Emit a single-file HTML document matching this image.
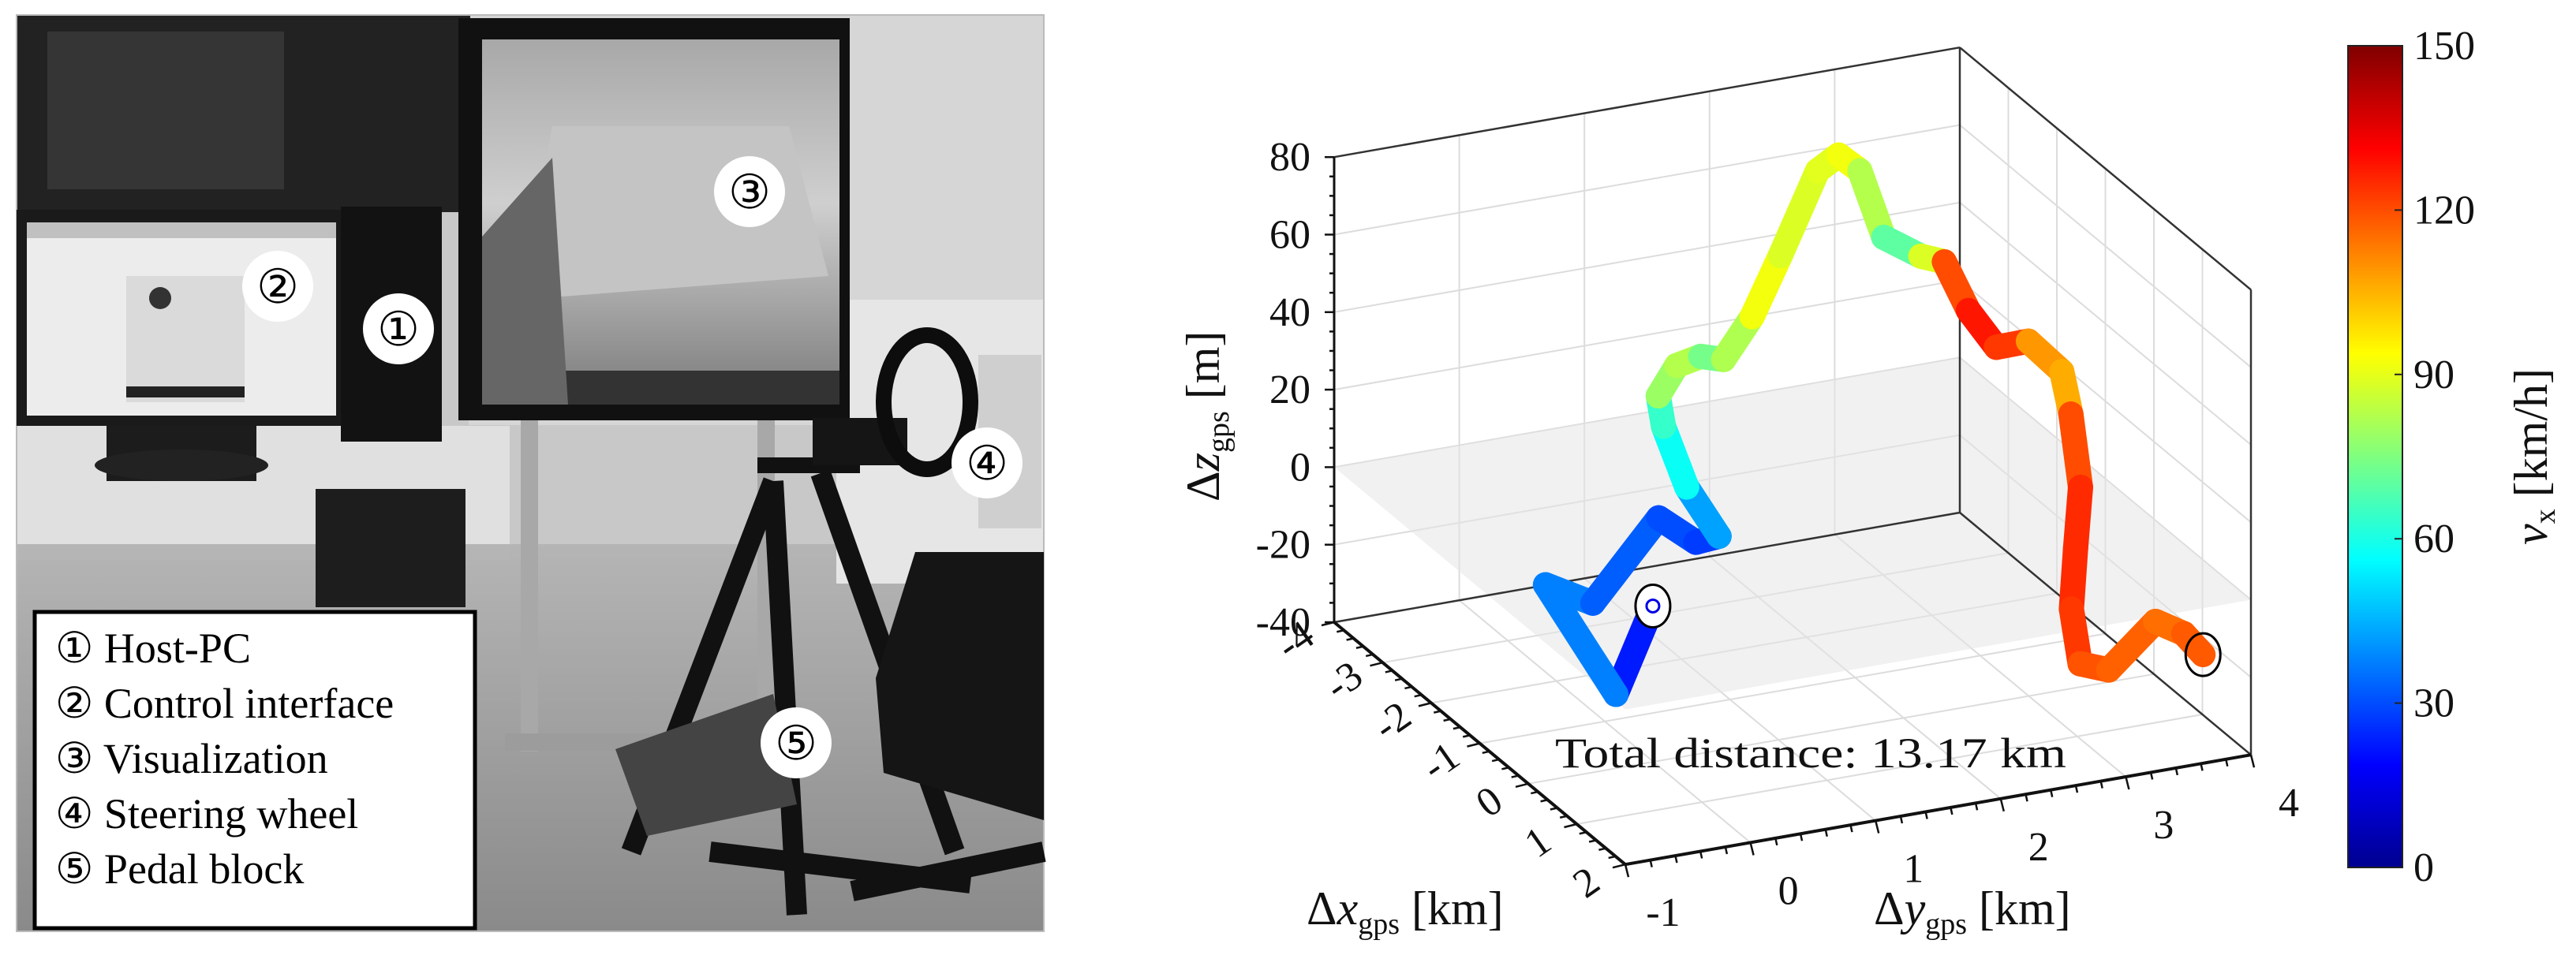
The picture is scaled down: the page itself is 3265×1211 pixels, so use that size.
<!DOCTYPE html>
<html><head><meta charset="utf-8">
<style>
html,body{margin:0;padding:0;background:#fff;}
svg{display:block;}
text{font-family:"Liberation Serif","DejaVu Serif",serif;}
</style></head>
<body>
<svg id="fig" width="3265" height="1211" viewBox="0 0 3265 1211" xmlns="http://www.w3.org/2000/svg">
<defs>
<linearGradient id="jet" x1="0" y1="1" x2="0" y2="0">
<stop offset="0" stop-color="#00008f"/><stop offset="0.125" stop-color="#0000ff"/>
<stop offset="0.375" stop-color="#00ffff"/><stop offset="0.625" stop-color="#ffff00"/>
<stop offset="0.875" stop-color="#ff0000"/><stop offset="1" stop-color="#800000"/>
</linearGradient>
<linearGradient id="scr" x1="0" y1="0" x2="0" y2="1">
<stop offset="0" stop-color="#a8a8a8"/><stop offset="0.45" stop-color="#cfcfcf"/><stop offset="1" stop-color="#7a7a7a"/>
</linearGradient>
<linearGradient id="floor" x1="0" y1="0" x2="0" y2="1">
<stop offset="0" stop-color="#b5b5b5"/><stop offset="1" stop-color="#8a8a8a"/>
</linearGradient>
</defs>

<!-- ================= PHOTO (approximation) ================= -->
<g>
<rect x="21" y="19" width="1302" height="1162" fill="#c8c8c8"/>
<rect x="594" y="19" width="729" height="520" fill="#d6d6d6"/>
<rect x="21" y="19" width="575" height="250" fill="#222"/>
<rect x="60" y="40" width="300" height="200" fill="#353535"/>
<rect x="21" y="690" width="1302" height="491" fill="url(#floor)"/>
<rect x="21" y="540" width="625" height="160" fill="#e0e0e0"/>
<rect x="21" y="690" width="625" height="20" fill="#b5b5b5"/>
<rect x="400" y="620" width="190" height="150" fill="#1d1d1d"/>
<rect x="1060" y="380" width="263" height="360" fill="#e6e6e6"/>
<rect x="1240" y="450" width="80" height="220" fill="#cfcfcf"/>
<rect x="21" y="19" width="1302" height="1162" fill="none" stroke="#bbb" stroke-width="2"/>
<!-- left monitor -->
<rect x="21" y="266" width="416" height="274" fill="#1a1a1a"/>
<rect x="34" y="282" width="392" height="245" fill="#ececec"/>
<rect x="34" y="282" width="392" height="20" fill="#c0c0c0"/>
<rect x="160" y="350" width="150" height="160" fill="#dadada"/>
<circle cx="203" cy="378" r="14" fill="#333"/>
<rect x="160" y="490" width="150" height="14" fill="#222"/>
<rect x="135" y="540" width="190" height="70" fill="#1c1c1c"/>
<ellipse cx="230" cy="590" rx="110" ry="20" fill="#222"/>
<!-- PC tower -->
<rect x="432" y="262" width="128" height="298" fill="#121212"/>
<!-- big monitor -->
<rect x="581" y="23" width="496" height="510" fill="#111"/>
<rect x="611" y="50" width="453" height="463" fill="url(#scr)"/>
<polygon points="700,160 1000,160 1050,350 660,380" fill="#c4c4c4"/>
<rect x="611" y="470" width="453" height="43" fill="#333"/>
<polygon points="611,300 700,200 720,513 611,513" fill="#666"/>
<rect x="660" y="533" width="22" height="420" fill="#a8a8a8"/>
<rect x="960" y="533" width="22" height="420" fill="#a8a8a8"/>
<rect x="640" y="930" width="360" height="22" fill="#9c9c9c"/>
<!-- wheel stand -->
<g stroke="#111" stroke-width="26" fill="none">
<line x1="800" y1="1080" x2="980" y2="610"/>
<line x1="1010" y1="1160" x2="980" y2="610"/>
<line x1="900" y1="1080" x2="1230" y2="1120"/>
<line x1="1040" y1="600" x2="1210" y2="1080"/>
</g>
<rect x="960" y="580" width="130" height="20" fill="#111"/>
<rect x="1030" y="530" width="120" height="60" fill="#151515"/>
<ellipse cx="1175" cy="510" rx="55" ry="85" fill="none" stroke="#0d0d0d" stroke-width="20"/>
<polygon points="780,950 980,880 1010,1020 820,1060" fill="#444"/>
<!-- chair -->
<polygon points="1160,700 1323,700 1323,1040 1120,980 1110,860" fill="#151515"/>
<line x1="1080" y1="1130" x2="1323" y2="1080" stroke="#111" stroke-width="26"/>
<!-- circled labels -->
<g font-size="60" text-anchor="middle">
<circle cx="950" cy="243" r="45" fill="#fff"/><text x="950" y="264" fill="#000">③</text>
<circle cx="352" cy="363" r="45" fill="#fff"/><text x="352" y="384" fill="#000">②</text>
<circle cx="505" cy="417" r="45" fill="#fff"/><text x="505" y="438" fill="#000">①</text>
<circle cx="1251" cy="587" r="45" fill="#fff"/><text x="1251" y="608" fill="#000">④</text>
<circle cx="1009" cy="942" r="45" fill="#fff"/><text x="1009" y="963" fill="#000">⑤</text>
</g>
<!-- legend box -->
<g>
<rect x="44" y="776" width="558" height="401" fill="#fff" stroke="#000" stroke-width="5"/>
<g font-size="54" fill="#000">
<text x="70" y="840">① Host-PC</text>
<text x="70" y="910">② Control interface</text>
<text x="70" y="980">③ Visualization</text>
<text x="70" y="1050">④ Steering wheel</text>
<text x="70" y="1120">⑤ Pedal block</text>
</g>
</g>
</g>

<!-- ================= 3D CHART ================= -->
<g id="chart"></g>
</svg>

<script>
// ---- data ----
const xKm = [-0.81,-0.72,-1.63,-1.48,-1.80,-1.96,-2.00,-2.33,-2.86,-2.71,-2.87,-2.97,-3.22,-3.20,-3.16,-2.78,-2.63,-2.63,-2.37,-2.25,-2.05,-1.76,-1.70,-1.71,-0.97,-0.86,-0.12,0.32,0.75,1.11,1.34,0.91,1.26,1.76];
const yKm = [0.31,-0.02,-0.23,0.09,0.74,1.10,1.30,1.17,1.19,1.09,1.30,1.53,1.81,2.03,2.24,2.39,2.50,2.67,2.76,3.01,3.12,3.20,3.40,3.66,3.64,3.67,3.46,3.25,3.05,2.98,3.12,3.66,3.75,3.71];
const zM  = [-10,-30,-10,-15,0,-10,-10,0,10,20,25,25,20,30,45,70,75,70,55,50,50,40,30,30,30,20,10,0,-10,-20,-20,-15,-15,-15];
const speed = [15,30,45,30,35,25,30,55,60,68,90,75,72,92,92,85,94,90,75,65,112,128,128,118,100,112,128,122,128,118,120,114,116,120];
const xTicks = [-4,-3,-2,-1,0,1,2];
const yTicks = [-1,0,1,2,3,4];
const zTicks = [-40,-20,0,20,40,60,80];
const cTicks = [0,30,60,90,120,150];
const totalText = "Total distance: 13.17 km";

// ---- axis functions ----
const X0=-4, Y0=-1, Z0=-40, Z1=80, X1=2, Y1=4;
function P(x,y,z){
  const a=x-X0,b=y-Y0,c=z-Z0;
  return [1691+61.5*a+158.6*b, 789+51.2*a-27.8*b-4.915*c];
}
const cbTop=58, cbBot=1100, cbX=2976, cbW=69;
function cY(v){return cbBot-(v-0)/(150-0)*(cbBot-cbTop);}
function jet(v){
  const t=Math.max(0,Math.min(1,v/150));
  const f=(s)=>Math.max(0,Math.min(1,s));
  const r=f(1.5-Math.abs(4*t-3)), g=f(1.5-Math.abs(4*t-2)), b=f(1.5-Math.abs(4*t-1));
  return `rgb(${Math.round(r*255)},${Math.round(g*255)},${Math.round(b*255)})`;
}
const NS="http://www.w3.org/2000/svg";
const chart=document.getElementById('chart');
function mk(tag,attrs,parent){const e=document.createElementNS(NS,tag);for(const k in attrs)e.setAttribute(k,attrs[k]);(parent||chart).appendChild(e);return e;}
function line(p,q,stroke,w,parent){return mk('line',{x1:p[0],y1:p[1],x2:q[0],y2:q[1],stroke:stroke,'stroke-width':w},parent);}

// grid
const grid=mk('g',{});


zTicks.forEach(z=>{line(P(X0,Y0,z),P(X0,Y1,z),'#dcdcdc',2,grid);line(P(X0,Y1,z),P(X1,Y1,z),'#dcdcdc',2,grid);});
yTicks.forEach(y=>{line(P(X0,y,Z0),P(X0,y,Z1),'#dcdcdc',2,grid);line(P(X0,y,Z0),P(X1,y,Z0),'#dcdcdc',2,grid);});
xTicks.forEach(x=>{line(P(x,Y1,Z0),P(x,Y1,Z1),'#dcdcdc',2,grid);line(P(x,Y0,Z0),P(x,Y1,Z0),'#dcdcdc',2,grid);});

// z=0 plane
const pl=[P(X0,Y0,0),P(X0,Y1,0),P(X1,Y1,0),P(X1,Y0,0)];
const plane=mk('polygon',{points:pl.map(p=>p.join(',')).join(' '),fill:'#e6e6e6','fill-opacity':0.55});



// box edges
const box=mk('g',{});


[[P(X0,Y0,Z0),P(X0,Y0,Z1)],[P(X0,Y1,Z0),P(X0,Y1,Z1)],[P(X1,Y1,Z0),P(X1,Y1,Z1)],
 [P(X0,Y0,Z1),P(X0,Y1,Z1)],[P(X0,Y1,Z1),P(X1,Y1,Z1)],
 [P(X0,Y0,Z0),P(X0,Y1,Z0)],[P(X0,Y1,Z0),P(X1,Y1,Z0)]].forEach(s=>line(s[0],s[1],'#333',2.5,box));
[[P(X0,Y0,Z0),P(X1,Y0,Z0)],[P(X1,Y0,Z0),P(X1,Y1,Z0)]].forEach(s=>line(s[0],s[1],'#111',4,box));
line(P(X0,Y0,Z0),P(X0,Y0,Z1),'#111',3,box);

// ticks
const tk=mk('g',{});


for(let z=Z0;z<=Z1;z+=5){const p=P(X0,Y0,z);line([p[0]-(z%20===0?12:6),p[1]],p,'#111',2.5,tk);}
for(let x=X0;x<=X1+1e-9;x+=0.2){const p=P(x,Y0,Z0);const m=Math.abs(x-Math.round(x))<1e-6;line(p,[p[0]-(m?16:9),p[1]+(m?4:2)],'#111',2.5,tk);}
for(let y=Y0;y<=Y1+1e-9;y+=0.2){const p=P(X1,y,Z0);const m=Math.abs(y-Math.round(y))<1e-6;line(p,[p[0]+(m?4:2),p[1]+(m?16:9)],'#111',2.5,tk);}

// tick labels
const tl=mk('g',{'font-size':52,fill:'#111'});


zTicks.forEach(z=>{const p=P(X0,Y0,z);const t=mk('text',{x:p[0]-30,y:p[1]+17,'text-anchor':'end'},tl);t.textContent=z;});
xTicks.forEach(x=>{const p=P(x,Y0,Z0);const t=mk('text',{x:p[0]-50,y:p[1]+40,'text-anchor':'middle',transform:`rotate(-35 ${p[0]-50} ${p[1]+22})`},tl);t.textContent=x;});
yTicks.forEach(y=>{const p=P(X1,y,Z0);const t=mk('text',{x:p[0]+48,y:p[1]+78,'text-anchor':'middle'},tl);t.textContent=y;});

// axis titles
const at=mk('g',{'font-size':60,fill:'#111'});


let t=mk('text',{x:1656,y:1172},at);
t.innerHTML='Δ<tspan font-style="italic">x</tspan><tspan font-size="38" dy="12">gps</tspan><tspan dy="-12"> [km]</tspan>';
t=mk('text',{x:2375,y:1172},at);
t.innerHTML='Δ<tspan font-style="italic">y</tspan><tspan font-size="38" dy="12">gps</tspan><tspan dy="-12"> [km]</tspan>';
t=mk('text',{x:0,y:0,transform:'translate(1545,636) rotate(-90)'},at);
t.innerHTML='Δ<tspan font-style="italic">z</tspan><tspan font-size="38" dy="12">gps</tspan><tspan dy="-12"> [m]</tspan>';

// trajectory
const tr=mk('g',{'stroke-linecap':'round','stroke-linejoin':'round',fill:'none'});


for(let i=0;i<xKm.length-1;i++){
  const p=P(xKm[i],yKm[i],zM[i]),q=P(xKm[i+1],yKm[i+1],zM[i+1]);
  const s=line(p,q,jet((speed[i]+speed[i+1])/2),32,tr);
  
  
}
const ps=P(xKm[0],yKm[0],zM[0]);
let c=mk('ellipse',{cx:ps[0],cy:ps[1],rx:22,ry:27,fill:'#fff',stroke:'#000','stroke-width':3});


mk('circle',{cx:ps[0],cy:ps[1],r:8,fill:'none',stroke:jet(speed[0]),'stroke-width':3});
const pe=P(xKm[xKm.length-1],yKm[yKm.length-1],zM[zM.length-1]);
c=mk('ellipse',{cx:pe[0],cy:pe[1],rx:22,ry:27,fill:'none',stroke:'#000','stroke-width':3});



// total distance annotation
t=mk('text',{x:1971,y:973,'font-size':54,fill:'#111',textLength:648,lengthAdjust:'spacingAndGlyphs'});


t.textContent=totalText;

// colorbar
const cb=mk('g',{});


mk('rect',{x:cbX,y:cbTop,width:cbW,height:cbBot-cbTop,fill:'url(#jet)',stroke:'#222','stroke-width':2},cb);
cTicks.forEach(v=>{
  const y=cY(v);
  line([cbX+cbW-10,y],[cbX+cbW,y],'#222',2,cb);
  const tt=mk('text',{x:cbX+cbW+14,y:y+17,'font-size':52,fill:'#111'},cb);tt.textContent=v;
});
t=mk('text',{x:0,y:0,'font-size':60,fill:'#111','text-anchor':'middle',transform:`translate(3228,${(cbTop+cbBot)/2}) rotate(-90)`},cb);


t.innerHTML='<tspan font-style="italic">v</tspan><tspan font-size="38" dy="10">x</tspan><tspan dy="-10"> [km/h]</tspan>';
</script>
</body></html>
